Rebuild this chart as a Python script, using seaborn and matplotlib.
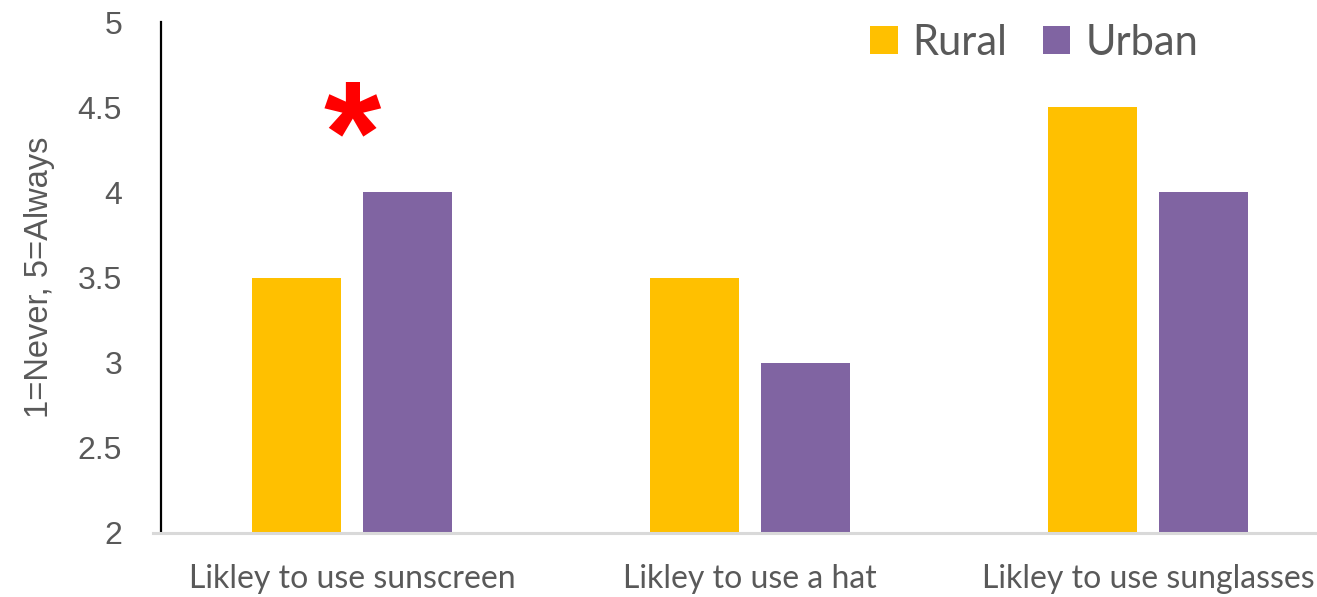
import matplotlib
matplotlib.use("Agg")
import matplotlib.pyplot as plt
import seaborn as sns
import pandas as pd

# Survey items and mean scores per area
items = ["Likley to use sunscreen", "Likley to use a hat", "Likley to use sunglasses"]
rural = [3.5, 3.5, 4.5]
urban = [4.0, 3.0, 4.0]
areas = ["Rural", "Urban"]
colors = ["#FFC000", "#8064A2"]
y_ticks = [2, 2.5, 3, 3.5, 4, 4.5, 5]
y_tick_labels = ["2", "2.5", "3", "3.5", "4", "4.5", "5"]
y_title = "1=Never, 5=Always"
sig_item = "Likley to use sunscreen"

df = pd.DataFrame({
    "item": items * 2,
    "score": rural + urban,
    "area": [areas[0]] * len(items) + [areas[1]] * len(items),
})

sns.set_theme(style="white")
plt.rcParams["font.family"] = ["Liberation Sans", "DejaVu Sans"]

W, H = 1317, 597
fig = plt.figure(figsize=(W / 100, H / 100), dpi=100)
ax = fig.add_axes([153 / W, (H - 533) / H, (W - 153) / W, (533 - 22) / H])

sns.barplot(data=df, x="item", y="score", hue="area", order=items,
            hue_order=areas, palette=colors, saturation=1,
            width=0.557, gap=0.2, linewidth=0, ax=ax)

# spine placement first: moving a spine resets the tick objects
for s in ["top", "right"]:
    ax.spines[s].set_visible(False)
ax.spines["left"].set_position(("data", -0.48))
ax.spines["left"].set_color("black")
ax.spines["left"].set_linewidth(1.6)
ax.spines["bottom"].set_color("#d9d9d9")
ax.spines["bottom"].set_linewidth(2.2)

ax.set_xlim(-0.5, 2.425)
ax.set_ylim(2, 5)
ax.set_yticks(y_ticks)
ax.set_yticklabels(y_tick_labels)
ax.tick_params(axis="y", length=0, pad=28, labelsize=23, labelcolor="#595959")
ax.tick_params(axis="x", length=0, pad=22)
for lab in ax.get_xticklabels():
    lab.set_fontfamily("Lato")
    lab.set_fontsize(23)
    lab.set_color("#595959")

ax.set_xlabel("")
ax.set_ylabel(y_title, fontsize=23.5, color="#595959")
ax.yaxis.set_label_coords(-0.084, 0.5)

# significance marker above the sunscreen pair
ax.text(items.index(sig_item), max(rural[0], urban[0]) + 0.28, "*",
        ha="center", va="center", fontsize=106, fontweight="bold",
        color="#FF0000", family="Liberation Sans")

handles, labels = ax.get_legend_handles_labels()
ax.legend(handles, labels, loc="center left",
          bbox_to_anchor=(870 / W, 1 - 43 / H), bbox_transform=fig.transFigure,
          ncol=2, frameon=False, borderpad=0, borderaxespad=0,
          handlelength=0.66, handleheight=0.66, handletextpad=0.36,
          columnspacing=0.85, prop={"family": "Lato", "size": 30},
          labelcolor="#595959")

fig.savefig("out.png", dpi=100)
